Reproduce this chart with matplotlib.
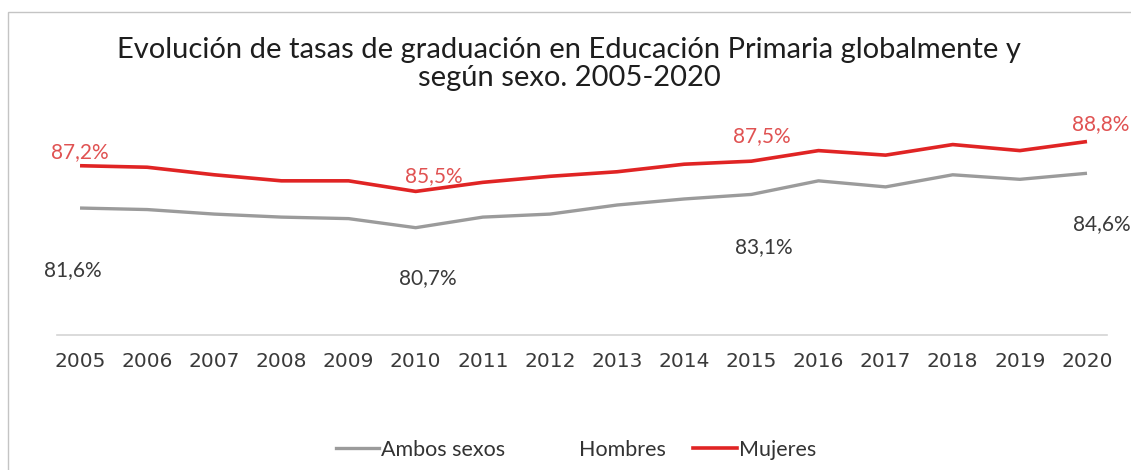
import matplotlib
matplotlib.use("Agg")
import matplotlib.pyplot as plt
from matplotlib.patches import Rectangle
from matplotlib.lines import Line2D

years = ["2005", "2006", "2007", "2008", "2009", "2010", "2011", "2012",
         "2013", "2014", "2015", "2016", "2017", "2018", "2019", "2020"]
ambos = [84.4, 84.3, 84.0, 83.8, 83.7, 83.1, 83.8, 84.0,
         84.6, 85.0, 85.3, 86.2, 85.8, 86.6, 86.3, 86.7]
hombres = [81.6, 81.5, 81.4, 81.4, 81.2, 80.7, 81.5, 81.5,
           82.4, 82.7, 83.1, 84.2, 83.7, 84.6, 84.4, 84.6]
mujeres = [87.2, 87.1, 86.6, 86.2, 86.2, 85.5, 86.1, 86.5,
           86.8, 87.3, 87.5, 88.2, 87.9, 88.6, 88.2, 88.8]
labelled = [0, 5, 10, 15]

title = "Evolución de tasas de graduación en Educación Primaria globalmente y\nsegún sexo. 2005-2020"

W, H = 1131, 470
fig = plt.figure(figsize=(W / 100, H / 100), dpi=100)
fig.patch.set_facecolor("white")

# outer frame (only top and left edges visible)
fig.patches.append(Rectangle((8 / W, -0.1), 1.2, (H - 12) / H + 0.1,
                             transform=fig.transFigure, fill=False,
                             edgecolor="#c4c4c4", linewidth=1.0))

ax = fig.add_axes([57 / W, (H - 335) / H, 1050 / W, (335 - 123.4) / H])
x = list(range(len(years)))
ax.plot(x, ambos, color="#9b9b9b", lw=2.4, label="Ambos sexos", solid_capstyle="butt")
ax.plot(x, hombres, color="white", alpha=0.0, lw=2.4, label="Hombres")
ax.plot(x, mujeres, color="#e02424", lw=2.6, label="Mujeres", solid_capstyle="butt")

ax.set_xlim(-0.343, 15.298)
ax.set_ylim(76, 90)
ax.set_xticks(x)
ax.set_xticklabels(years, fontsize=14.5, color="#3a3a3a", family="DejaVu Sans")
ax.tick_params(axis="x", length=0, pad=12)
ax.set_yticks([])
for s in ["top", "right", "left"]:
    ax.spines[s].set_visible(False)
ax.spines["bottom"].set_color("#d4d4d4")
ax.spines["bottom"].set_linewidth(1.2)

red_off = {0: (0, 13.5), 5: (18, 15), 10: (10, 25), 15: (14, 17)}
blk_off = {0: (-7, -20), 5: (12, -14), 10: (12, -19), 15: (15, -19)}
for i in labelled:
    ax.annotate(f"{mujeres[i]:.1f}%".replace(".", ","), (x[i], mujeres[i]),
                xytext=red_off[i], textcoords="offset pixels",
                ha="center", va="center", fontsize=15, color="#e05252",
                family="Lato", annotation_clip=False)
    ax.annotate(f"{hombres[i]:.1f}%".replace(".", ","), (x[i], hombres[i]),
                xytext=blk_off[i], textcoords="offset pixels",
                ha="center", va="center", fontsize=15, color="#3a3a3a",
                family="Lato", annotation_clip=False)

fig.text(569 / W, (H - 64) / H, title, ha="center", va="center",
         fontsize=21, color="#1e1e1e", family="Lato", linespacing=1.1)

handles = [Line2D([], [], color="#9b9b9b", lw=2.4),
           Line2D([], [], color="white", alpha=0.0, lw=2.4),
           Line2D([], [], color="#e02424", lw=2.6)]
fig.legend(handles, ["Ambos sexos", "Hombres", "Mujeres"], ncol=3,
           loc="center", bbox_to_anchor=(576 / W, (H - 450) / H),
           frameon=False, prop={"family": "Lato", "size": 15.5},
           handlelength=2.0, handletextpad=0.1, columnspacing=1.3,
           labelcolor="#333333")

fig.savefig("out.png", dpi=100, facecolor="white")
